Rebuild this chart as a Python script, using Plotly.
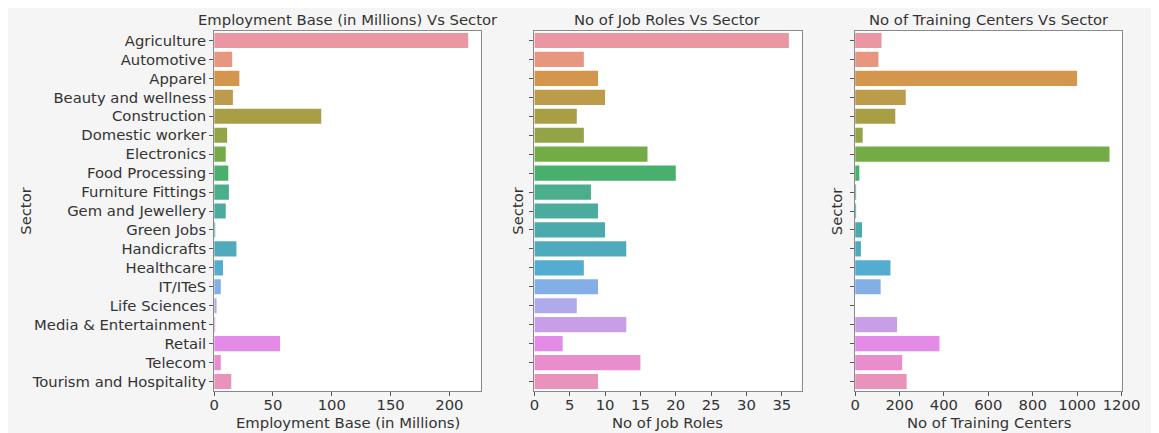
import math
import colorsys
import plotly.graph_objects as go

# ---------------- data ----------------
sectors = ["Agriculture", "Automotive", "Apparel", "Beauty and wellness", "Construction",
           "Domestic worker", "Electronics", "Food Processing", "Furniture Fittings",
           "Gem and Jewellery", "Green Jobs", "Handicrafts", "Healthcare", "IT/ITeS",
           "Life Sciences", "Media & Entertainment", "Retail", "Telecom",
           "Tourism and Hospitality"]
employment_base = [216, 15.3, 21.4, 15.9, 91, 11, 9.8, 12, 12.5, 9.8, 0.3, 18.9, 7.5,
                   5.6, 2.0, 0.8, 56, 5.6, 14.5]
job_roles = [36, 7, 9, 10, 6, 7, 16, 20, 8, 9, 10, 13, 7, 9, 6, 13, 4, 15, 9]
training_centers = [119, 105, 1000, 228, 181, 34, 1146, 19, 2, 2, 31, 26, 159, 115, 0,
                    189, 380, 212, 232]
ticks_emp = [0, 50, 100, 150, 200]
ticks_jobs = [0, 5, 10, 15, 20, 25, 30, 35]
ticks_tc = [0, 200, 400, 600, 800, 1000, 1200]

titles = ["Employment Base (in Millions) Vs Sector", "No of Job Roles Vs Sector",
          "No of Training Centers Vs Sector"]
xtitles = ["Employment Base (in Millions)", "No of Job Roles", "No of Training Centers"]

# ---------------- seaborn husl palette (l=.7) desaturated 0.75 ----------------
_m = [[3.2406, -1.5372, -0.4986], [-0.9689, 1.8758, 0.0415], [0.0557, -0.2040, 1.0570]]
_refU, _refV = 0.19784, 0.46834
_kappa, _eps = 903.2962962, 0.0088564516
_lab_e, _lab_k = 0.008856, 903.3


def _max_chroma(L, H):
    hrad = math.radians(H)
    sinH, cosH = math.sin(hrad), math.cos(hrad)
    sub1 = (L + 16) ** 3 / 1560896.0
    sub2 = sub1 if sub1 > _eps else L / _kappa
    res = float("inf")
    for m1, m2, m3 in _m:
        top = (0.99915 * m1 + 1.05122 * m2 + 1.14460 * m3) * sub2
        rb = 0.86330 * m3 - 0.17266 * m2
        lb = 0.12949 * m3 - 0.38848 * m1
        bottom = (rb * sinH + lb * cosH) * sub2
        for t in (0.0, 1.0):
            C = L * (top - 1.05122 * t) / (bottom + 0.17266 * sinH * t)
            if 0.0 < C < res:
                res = C
    return res


def _f_inv(t):
    return t ** 3 if t ** 3 > _lab_e else (116.0 * t - 16.0) / _lab_k


def _from_linear(c):
    return 12.92 * c if c <= 0.0031308 else 1.055 * c ** (1 / 2.4) - 0.055


def husl_to_rgb(h, s, l):
    C = _max_chroma(l, h) / 100.0 * s
    hr = math.radians(h)
    U, V = math.cos(hr) * C, math.sin(hr) * C
    varY = _f_inv((l + 16.0) / 116.0)
    varU = U / (13.0 * l) + _refU
    varV = V / (13.0 * l) + _refV
    Y = varY
    X = -(9.0 * Y * varU) / ((varU - 4.0) * varV - varU * varV)
    Z = (9.0 * Y - 15.0 * varV * Y - varV * X) / (3.0 * varV)
    rgb = [_from_linear(r[0] * X + r[1] * Y + r[2] * Z) for r in _m]
    return [min(max(c, 0.0), 1.0) for c in rgb]


def palette(n, h=0.01, s=0.9, l=0.7, desat=0.75):
    out = []
    for i in range(n):
        hue = ((i / n + h) % 1) * 359
        r, g, b = husl_to_rgb(hue, s * 99, l * 99)
        hh, ll, ss = colorsys.rgb_to_hls(r, g, b)
        r, g, b = colorsys.hls_to_rgb(hh, ll, ss * desat)
        out.append("#%02x%02x%02x" % tuple(int(round(c * 255)) for c in (r, g, b)))
    return out


colors = palette(len(sectors))

# ---------------- layout helpers ----------------
# the page body has an 8px margin, so the figure starts at (8, 8) in the window
OFF = 8
W, H = 1159 - OFF, 433 - OFF
def px(x):
    return (x - OFF) / W
def py(y):
    return 1 - (y - OFF) / H

panels = [(213.3, 485.7), (540.0, 812.7), (867.3, 1140.0)]
ytop, ybot = 31, 391
ranges = [[0, 227], [0, 37.8], [0, 1204]]
tickvals = [ticks_emp, ticks_jobs, ticks_tc]
values = [employment_base, job_roles, training_centers]
ytitle_x = [20, 522, 848]

TXT = "#333333"
FONT = "DejaVu Sans"
FS = 14.8

fig = go.Figure()
for i in range(3):
    sfx = "" if i == 0 else str(i + 1)
    fig.add_trace(go.Bar(
        x=values[i], y=sectors, orientation="h",
        marker=dict(color=colors, line=dict(width=0)),
        xaxis="x" + sfx, yaxis="y" + sfx, showlegend=False,
    ))
    fig.layout["xaxis" + sfx] = dict(
        domain=[px(panels[i][0]), px(panels[i][1])], anchor="y" + sfx,
        range=ranges[i], tickvals=tickvals[i], ticks="outside", ticklen=4,
        tickcolor="#555555", showline=True, linecolor="#8a8a8a", linewidth=1,
        mirror=True, showgrid=False, zeroline=False, ticklabelstandoff=-4,
        tickfont=dict(family=FONT, size=FS, color=TXT),
    )
    fig.layout["yaxis" + sfx] = dict(
        domain=[py(ybot), py(ytop)], anchor="x" + sfx,
        categoryorder="array", categoryarray=sectors, range=[18.5, -0.5],
        ticks="outside", ticklen=4, tickcolor="#555555", showline=True,
        linecolor="#8a8a8a", linewidth=1, mirror=True, showgrid=False,
        zeroline=False, showticklabels=(i == 0),
        tickfont=dict(family=FONT, size=FS, color=TXT),
    )
    cx = px((panels[i][0] + panels[i][1]) / 2)
    fig.add_annotation(text=titles[i], x=cx, y=py(20), xref="paper", yref="paper",
                       showarrow=False, xanchor="center", yanchor="middle",
                       font=dict(family=FONT, size=FS, color=TXT))
    fig.add_annotation(text=xtitles[i], x=cx, y=py(422), xref="paper", yref="paper",
                       showarrow=False, xanchor="center", yanchor="middle",
                       font=dict(family=FONT, size=FS, color=TXT))
    fig.add_annotation(text="Sector", x=px(ytitle_x[i]), y=py(211), xref="paper",
                       yref="paper", showarrow=False, textangle=-90,
                       xanchor="center", yanchor="middle",
                       font=dict(family=FONT, size=FS, color=TXT))

fig.update_layout(
    width=W, height=H, autosize=False, margin=dict(l=0, r=0, t=0, b=0),
    paper_bgcolor="#f5f5f5", plot_bgcolor="#ffffff", bargap=0.2,
    font=dict(family=FONT, size=FS, color=TXT),
)

fig.write_html("out.html", config={"responsive": False})
